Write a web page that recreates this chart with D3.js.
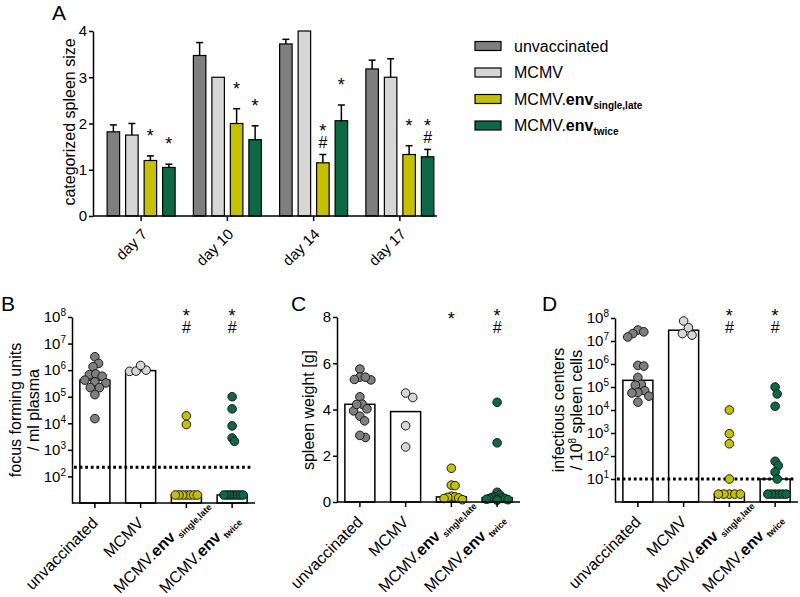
<!DOCTYPE html>
<html>
<head>
<meta charset="utf-8">
<style>
body { margin: 0; background: #fff; }
svg text { font-family: "Liberation Sans", Arial, sans-serif; fill: #000; }
.axis path, .axis line { stroke: #000; stroke-width: 1.5px; }
.axis text { font-size: 15px; }
</style>
</head>
<body>
<script src="https://d3js.org/d3.v7.min.js"></script>
<script>

// ---- data ----
var days = ["day 7", "day 10", "day 14", "day 17"];
var groupNames = ["unvaccinated", "MCMV", "MCMV.env", "MCMV.env"];
var groupSubs = ["", "", "single,late", "twice"];

// A: categorized spleen size, mean + sem
var sizeUnvacc = [1.82, 3.47, 3.72, 3.18];
var sizeMCMV = [1.75, 3.0, 4.0, 3.0];
var sizeSingle = [1.2, 2.0, 1.15, 1.33];
var sizeTwice = [1.05, 1.65, 2.06, 1.28];
var semUnvacc = [0.15, 0.28, 0.10, 0.19];
var semMCMV = [0.25, 0, 0, 0.40];
var semSingle = [0.10, 0.32, 0.18, 0.19];
var semTwice = [0.07, 0.30, 0.34, 0.16];
var sigSingleA = ["*", "*", "*#", "*"];
var sigTwiceA = ["*", "*", "*", "*#"];

// B: focus forming units / ml plasma
var ffuUnvacc = [3.2e6, 1.8e6, 1.35e6, 6.8e5, 7.2e5, 5.9e5, 4.2e5, 3.3e5, 3.6e5, 2.2e5, 2.2e5, 1.2e5, 1.5e4];
var ffuMCMV = [9e5, 9.2e5, 1e6, 1.5e6];
var ffuSingle = [1.9e4, 9e3, 20, 20, 20, 20, 20, 20, 20];
var ffuTwice = [1e5, 3.5e4, 8e3, 2.8e3, 2.1e3, 20, 20, 20, 20, 20, 20, 20, 20];
var sigB = ["", "", "*#", "*#"];

// C: spleen weight [g]
var weightUnvacc = [5.75, 5.40, 5.28, 5.30, 5.40, 4.55, 4.23, 4.03, 3.94, 4.22, 3.71, 3.51, 2.79, 2.88];
var weightMCMV = [4.52, 4.71, 3.30, 2.38];
var weightSingle = [1.46, 0.73, 0.71, 0.25, 0.22, 0.2, 0.18, 0.15, 0.1];
var weightTwice = [4.31, 2.56, 0.42, 0.3, 0.22, 0.2, 0.18, 0.15, 0.14, 0.12, 0.1, 0.1, 0.08];
var sigC = ["", "", "*", "*#"];

// D: infectious centers / 10^8 spleen cells
var icUnvacc = [3.0e7, 2.5e7, 2.1e7, 1.5e7, 8.7e5, 8.1e5, 2.6e5, 1.3e5, 1.2e5, 6.9e4, 5.8e4, 5.5e4, 4e4, 2.2e4];
var icMCMV = [3.8e7, 7.4e7, 1.8e7, 2.1e7];
var icSingle = [1e4, 9.3e2, 3.4e2, 10, 2.2, 2.2, 2.2, 2.2, 2.2];
var icTwice = [1e5, 5e4, 1.45e4, 59, 38, 20, 10, 2.2, 2.2, 2.2, 2.2, 2.2, 2.2];
var sigD = ["", "", "*#", "*#"];

var colors = ["#7f7f7f", "#d6d6d6", "#c6c100", "#0b6a45"];

var svg = d3.select("body").append("svg")
    .attr("width", 800)
    .attr("height", 597);

// group name with bold "env"
function writeName(t, i) {
  var name = groupNames[i];
  if (name.indexOf(".env") >= 0) {
    t.append("tspan").text("MCMV.");
    t.append("tspan").attr("font-weight", "bold").text("env");
  } else {
    t.append("tspan").text(name);
  }
}

// star / hash markers, bottom one sits at baseY
function writeSig(g, cx, baseY, sig) {
  if (!sig) return;
  var hasHash = sig.indexOf("#") >= 0;
  if (hasHash) {
    g.append("text").attr("x", cx).attr("y", baseY).attr("text-anchor", "middle")
      .attr("font-size", 16).text("#");
  }
  g.append("text").attr("x", cx).attr("y", hasHash ? baseY - 11 : baseY - 8)
    .attr("text-anchor", "middle").attr("font-size", 18).text("*");
}

// ---------------- panel A ----------------
var sizeSeries = [sizeUnvacc, sizeMCMV, sizeSingle, sizeTwice];
var semSeries = [semUnvacc, semMCMV, semSingle, semTwice];
var sigA = [null, null, sigSingleA, sigTwiceA];

var xA = d3.scaleBand().domain(days).range([98, 443]);
var xSub = d3.scaleBand().domain(d3.range(4)).range([-34, 34]).paddingInner(0.324);
var yA = d3.scaleLinear().domain([0, 4]).range([216, 31]);

var gA = svg.append("g");

sizeSeries.forEach(function(vals, i) {
  vals.forEach(function(v, j) {
    var cx = xA(days[j]) + xA.bandwidth() / 2 + xSub(i) + xSub.bandwidth() / 2;
    gA.append("rect")
      .attr("x", cx - xSub.bandwidth() / 2)
      .attr("y", yA(v))
      .attr("width", xSub.bandwidth())
      .attr("height", yA(0) - yA(v))
      .attr("fill", colors[i])
      .attr("stroke", "#000")
      .attr("stroke-width", 1.2);
    var e = semSeries[i][j];
    var top = yA(v + e);
    if (e > 0) {
      gA.append("line").attr("x1", cx).attr("x2", cx).attr("y1", yA(v)).attr("y2", top)
        .attr("stroke", "#000").attr("stroke-width", 1.5);
      gA.append("line").attr("x1", cx - 3.5).attr("x2", cx + 3.5).attr("y1", top).attr("y2", top)
        .attr("stroke", "#000").attr("stroke-width", 1.5);
    }
    if (sigA[i]) writeSig(gA, cx, top - 6, sigA[i][j]);
  });
});

gA.append("g").attr("class", "axis")
  .attr("transform", "translate(93,0)")
  .call(d3.axisLeft(yA).ticks(4).tickSize(4).tickPadding(2).tickSizeOuter(0));

// x axis of A
gA.append("line").attr("x1", 93).attr("x2", 437).attr("y1", yA(0)).attr("y2", yA(0))
  .attr("stroke", "#000").attr("stroke-width", 1.5);
days.forEach(function(d) {
  var cx = xA(d) + xA.bandwidth() / 2;
  gA.append("line").attr("x1", cx).attr("x2", cx).attr("y1", yA(0)).attr("y2", yA(0) + 5)
    .attr("stroke", "#000").attr("stroke-width", 1.5);
  gA.append("text")
    .attr("transform", "translate(" + (cx + 7) + "," + (yA(0) + 19) + ") rotate(-45)")
    .attr("text-anchor", "end").attr("font-size", 15).text(d);
});

gA.append("text")
  .attr("transform", "translate(75,122) rotate(-90)")
  .attr("text-anchor", "middle").attr("font-size", 16)
  .text("categorized spleen size");

gA.append("text").attr("x", 52).attr("y", 20).attr("font-size", 21).text("A");

// legend
groupNames.forEach(function(n, i) {
  var ry = 46 + i * 26.5;
  svg.append("rect").attr("x", 475).attr("y", ry - 4.5).attr("width", 26).attr("height", 9)
    .attr("fill", colors[i]).attr("stroke", "#000").attr("stroke-width", 1.2);
  var t = svg.append("text").attr("x", 514).attr("y", ry + 5.5).attr("font-size", 16);
  writeName(t, i);
  if (groupSubs[i]) {
    t.append("tspan").attr("font-size", 10).attr("font-weight", "bold")
      .attr("dy", 4).text(groupSubs[i]);
  }
});

// ---------------- dot panels ----------------

// simple beeswarm, squeezed to fit in maxOff
function swarm(vals, y, r, maxOff) {
  var pts = vals.map(function(v) { return { v: v, y: y(v), x: 0 }; });
  var placed = [];
  var d = 2 * r * 0.92;
  pts.slice().sort(function(a, b) { return a.y - b.y; }).forEach(function(p) {
    for (var k = 0; k < 60; k++) {
      var off = (k % 2 ? 1 : -1) * Math.ceil(k / 2) * 1.2;
      var ok = placed.every(function(q) {
        return (q.x - off) * (q.x - off) + (q.y - p.y) * (q.y - p.y) >= d * d;
      });
      if (ok) { p.x = off; break; }
    }
    placed.push(p);
  });
  var m = d3.max(pts, function(p) { return Math.abs(p.x); });
  var s = m > maxOff ? maxOff / m : 1;
  pts.forEach(function(p) { p.x *= s; });
  return pts;
}

function logTicks(axisG) {
  axisG.selectAll(".tick text").each(function(d) {
    var t = d3.select(this);
    t.text(null).attr("font-size", 14);
    t.append("tspan").text("10");
    t.append("tspan").attr("font-size", 10).attr("dy", -6).text(Math.round(Math.log10(d)));
  });
}

function dotPanel(o) {
  var g = svg.append("g");
  var x = d3.scaleBand().domain(d3.range(4)).range([o.x0, o.x0 + 183]);
  var y = o.y;
  var yb = y.range()[0];

  // bars = medians
  o.series.forEach(function(vals, i) {
    var cx = x(i) + x.bandwidth() / 2;
    var med = d3.median(vals);
    g.append("rect").attr("x", cx - 15).attr("y", y(med)).attr("width", 30)
      .attr("height", yb - y(med)).attr("fill", "#fff").attr("stroke", "#000").attr("stroke-width", 1.5);
  });

  if (o.limit) {
    g.append("line").attr("x1", o.x0 + 2).attr("x2", o.x0 + 181)
      .attr("y1", y(o.limit)).attr("y2", y(o.limit))
      .attr("stroke", "#000").attr("stroke-width", 3).attr("stroke-dasharray", "2.8,2.8");
  }

  o.series.forEach(function(vals, i) {
    var cx = x(i) + x.bandwidth() / 2;
    var pts = swarm(vals, y, 4.3, 11);
    g.selectAll(null).data(pts).enter().append("circle")
      .attr("cx", function(p) { return cx + p.x; })
      .attr("cy", function(p) { return p.y; })
      .attr("r", 4.3)
      .attr("fill", colors[i])
      .attr("stroke", "#1a1a1a")
      .attr("stroke-width", 1);
    writeSig(g, cx, 333, o.sig[i]);
  });

  var ax = d3.axisLeft(y).tickSize(4).tickPadding(2).tickSizeOuter(0);
  if (o.ticks) ax.tickValues(o.ticks);
  else ax.ticks(4);
  var axG = g.append("g").attr("class", "axis").attr("transform", "translate(" + o.x0 + ",0)").call(ax);
  if (o.log) logTicks(axG);

  // x axis
  g.append("line").attr("x1", o.x0).attr("x2", o.x0 + 183).attr("y1", yb).attr("y2", yb)
    .attr("stroke", "#000").attr("stroke-width", 1.5);
  d3.range(4).forEach(function(i) {
    var cx = x(i) + x.bandwidth() / 2;
    g.append("line").attr("x1", cx).attr("x2", cx).attr("y1", yb).attr("y2", yb + 5)
      .attr("stroke", "#000").attr("stroke-width", 1.5);
    var tr = "translate(" + (cx + 4) + "," + (yb + 21) + ") rotate(-45)";
    // labels with a subscript are pulled back so the subscript ends near the tick
    var back = groupSubs[i] ? -20 : 0;
    var t = g.append("text").attr("transform", tr).attr("x", back)
      .attr("text-anchor", "end").attr("font-size", 16);
    writeName(t, i);
    if (groupSubs[i]) {
      g.append("text").attr("transform", tr)
        .attr("x", back + 3).attr("y", 4)
        .attr("font-size", 9).attr("font-weight", "bold").text(groupSubs[i]);
    }
  });

  // y title
  o.title.forEach(function(line, k) {
    var t = g.append("text")
      .attr("transform", "translate(" + o.titleX[k] + "," + o.titleY + ") rotate(-90)")
      .attr("text-anchor", "middle").attr("font-size", 16);
    if (line.indexOf("^") >= 0) {
      var parts = line.split("^");
      t.append("tspan").text(parts[0]);
      t.append("tspan").attr("font-size", 10).attr("dy", -6).text(parts[1].charAt(0));
      t.append("tspan").attr("dy", 6).text(parts[1].slice(1));
    } else {
      t.text(line);
    }
  });

  g.append("text").attr("x", o.letterX).attr("y", 311).attr("font-size", 21).text(o.letter);
}

dotPanel({
  letter: "B", letterX: 1, x0: 72,
  y: d3.scaleLog().domain([10, 1e8]).range([503, 317]),
  log: true, ticks: [1e2, 1e3, 1e4, 1e5, 1e6, 1e7, 1e8],
  series: [ffuUnvacc, ffuMCMV, ffuSingle, ffuTwice],
  sig: sigB, limit: 220,
  title: ["focus forming units", "/ ml plasma"], titleX: [21, 39], titleY: 410
});

dotPanel({
  letter: "C", letterX: 291, x0: 337,
  y: d3.scaleLinear().domain([0, 8]).range([502, 317]),
  log: false,
  series: [weightUnvacc, weightMCMV, weightSingle, weightTwice],
  sig: sigC,
  title: ["spleen weight [g]"], titleX: [314], titleY: 410
});

dotPanel({
  letter: "D", letterX: 542, x0: 615,
  y: d3.scaleLog().domain([1, 1e8]).range([502, 318]),
  log: true, ticks: [1e1, 1e2, 1e3, 1e4, 1e5, 1e6, 1e7, 1e8],
  series: [icUnvacc, icMCMV, icSingle, icTwice],
  sig: sigD, limit: 10,
  title: ["infectious centers", "/ 10^8 spleen cells"], titleX: [564, 582], titleY: 410
});

</script>
</body>
</html>
